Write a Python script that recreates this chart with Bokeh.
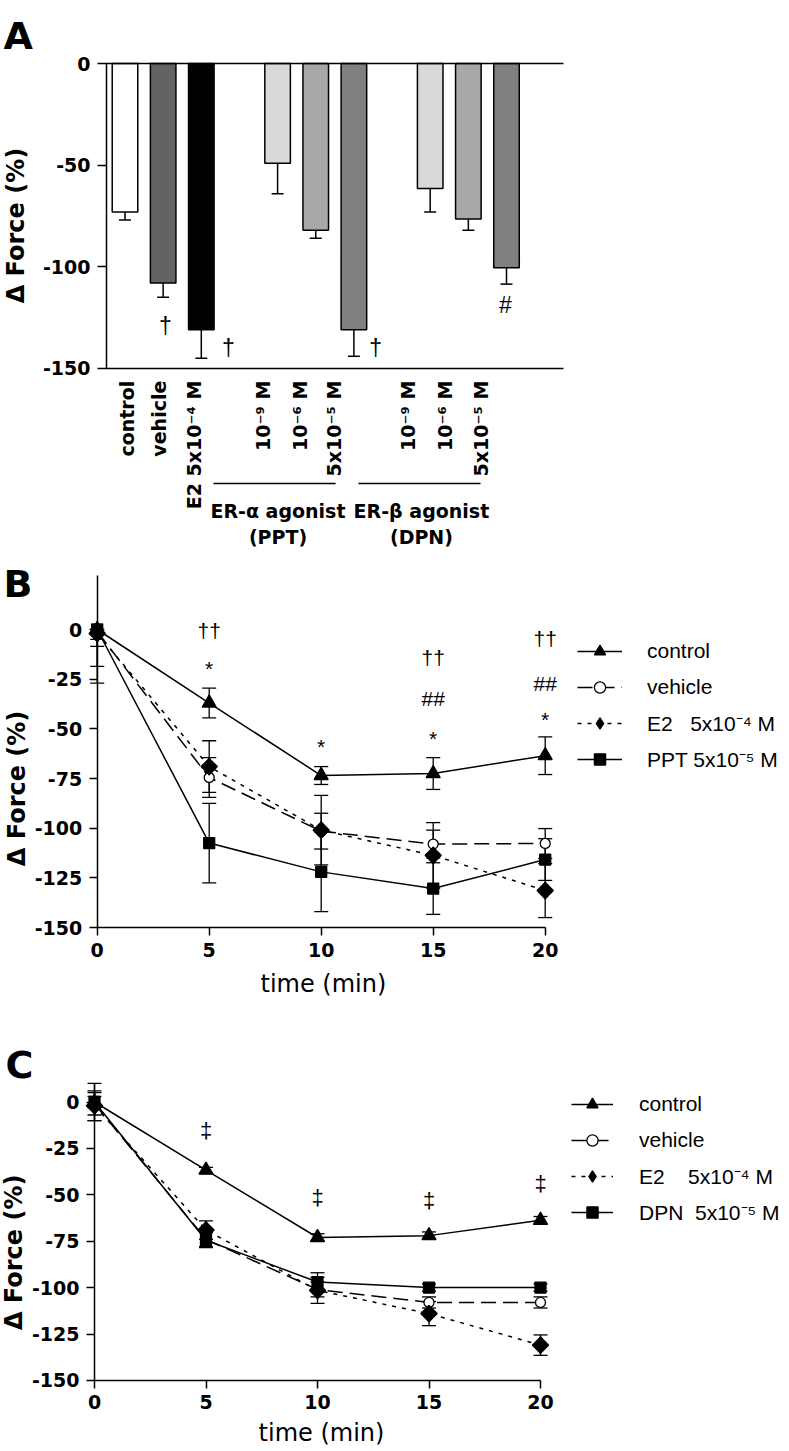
import math
from bokeh.plotting import figure
from bokeh.models import (ColumnDataSource, Range1d, FixedTicker, Whisker, TeeHead,
                          Label, Legend, LegendItem, LinearAxis, NumeralTickFormatter)
from bokeh.layouts import column
from bokeh.embed import file_html
from bokeh.resources import INLINE
from bokeh.core.properties import value

BOLD = "DejaVu Sans"
PLAIN = "Liberation Sans"

# ---------------- Panel A data ----------------
a_labels = ["control", "vehicle", "E2 5x10⁻⁴ M",
            "10⁻⁹ M", "10⁻⁶ M", "5x10⁻⁵ M",
            "10⁻⁹ M", "10⁻⁶ M", "5x10⁻⁵ M"]
a_group = [0, 0, 0, 1, 1, 1, 2, 2, 2]
a_values = [-73, -108, -131, -49, -82, -131, -61.5, -76.5, -100.5]
a_errors = [4, 7, 14, 15, 4, 13, 11.5, 5.5, 8]
a_colors = ["#ffffff", "#636363", "#000000", "#d9d9d9", "#a8a8a8", "#808080",
            "#d9d9d9", "#a8a8a8", "#808080"]
a_label_x = [0.04, 0.90, 1.80, 3.63, 4.60, 5.47, 7.43, 8.40, 9.32]
a_group_titles = ["ER-α agonist", "ER-β agonist"]
a_group_subs = ["(PPT)", "(DPN)"]
a_group_x = [4.01, 7.77]
a_group_line = [(2.32, 5.52), (6.12, 9.32)]
a_marks = [(1.06, -128.9, "†"), (2.71, -140.0, "†"), (6.57, -140.0, "†"), (9.97, -118.8, "#")]
a_ticks = [0, -50, -100, -150]

# ---------------- Panel B data ----------------
times = [0, 5, 10, 15, 20]
b_control = [0, -37, -73.5, -72.5, -63.5]
b_control_err = [5, 7.5, 4.5, 8, 9.5]
b_vehicle = [-1, -74.5, -101.5, -108, -107.7]
b_vehicle_err = [7.5, 10, 9, 7, 7.5]
b_e2 = [-2, -69, -101, -113.7, -131.4]
b_e2_err = [16.6, 13, 17.5, 16.5, 13.6]
b_ppt = [0, -107.5, -122, -130.4, -115.8]
b_ppt_err = [27, 20, 20, 13, 10.5]
b_marks = [(5, -0.5, "††"), (5, -19.4, "*"), (10, -59.1, "*"),
           (15, -14.1, "††"), (15, -34.7, "##"), (15, -55.1, "*"),
           (20, -4.5, "††"), (20, -27.2, "##"), (20, -45.5, "*")]

# ---------------- Panel C data ----------------
c_control = [0, -36.7, -73, -72, -63.7]
c_control_err = [3, 1.5, 2, 2, 2]
c_vehicle = [-1, -74, -101, -108, -108]
c_vehicle_err = [6, 4, 4, 3, 3]
c_e2 = [-2, -69, -101.5, -114, -131]
c_e2_err = [8, 5, 7, 6.5, 5.5]
c_dpn = [0, -74.5, -97, -100, -100]
c_dpn_err = [10, 4, 5, 2, 2]
c_marks = [(5, -15.4, "‡"), (10, -51.5, "‡"), (15, -53.0, "‡"), (20, -44.0, "‡")]

line_ticks = [0, -25, -50, -75, -100, -125, -150]
time_ticks = [0, 5, 10, 15, 20]

NB = "\u00a0"
b_names = ["control", "vehicle", "E2" + NB * 3 + "5x10⁻⁴ M", "PPT 5x10⁻⁵ M"]
c_names = ["control", "vehicle", "E2" + NB * 4 + "5x10⁻⁴ M", "DPN" + NB * 2 + "5x10⁻⁵ M"]

W = 785


def ranges(x_px0, ppu_x, y_px0, ppu_y, h):
    """x_px0: pixel where x=0; y_px0: pixel (from top) where y=0."""
    x0 = -x_px0 / ppu_x
    y1 = y_px0 / ppu_y
    return Range1d(x0, x0 + W / ppu_x), Range1d(y1 - h / ppu_y, y1)


def make_fig(h, xr, yr):
    p = figure(frame_width=W, frame_height=h, x_range=xr, y_range=yr,
               min_border_left=0, min_border_right=0, min_border_top=0, min_border_bottom=0,
               output_backend="svg", toolbar_location=None)
    p.grid.visible = False
    p.outline_line_color = None
    p.background_fill_color = "white"
    p.border_fill_color = "white"
    return p


def style_axis(ax, tick_out, standoff):
    ax.axis_line_width = 1.5
    ax.axis_line_color = "black"
    ax.major_tick_line_width = 1.5
    ax.major_tick_line_color = "black"
    ax.major_tick_out = tick_out
    ax.major_tick_in = 0
    ax.minor_tick_line_color = None
    ax.major_label_text_font = BOLD
    ax.major_label_text_font_style = "bold"
    ax.major_label_text_font_size = "19px"
    ax.major_label_text_color = "black"
    ax.major_label_standoff = standoff
    ax.formatter = NumeralTickFormatter(format="0")


def title_label(p, x, y, text):
    p.add_layout(Label(x=x, y=y, text=text, text_font=BOLD, text_font_style="bold",
                       text_font_size="38px", text_align="left", text_baseline="alphabetic",
                       text_color="black"))


def ylabel(p, x, y):
    p.add_layout(Label(x=x, y=y, text="Δ Force (%)", angle=math.pi / 2, text_font=BOLD,
                       text_font_style="bold", text_font_size="24px", text_align="center",
                       text_baseline="middle", text_color="black"))


# ======================= Panel A =======================
a_pos = [i + g for i, g in enumerate(a_group)]
a_left, a_right = -0.485, 11.494
xrA, yrA = ranges(124.5, 38.15, 63, 2.0333, 548)
pA = make_fig(548, xrA, yrA)
style_axis(pA.yaxis[0], 9, 7)
pA.yaxis.ticker = FixedTicker(ticks=a_ticks)
pA.yaxis.bounds = (-150, 0)
pA.yaxis.fixed_location = a_left
style_axis(pA.xaxis[0], 0, 0)
pA.xaxis.ticker = FixedTicker(ticks=[])
pA.xaxis.bounds = (a_left, a_right)
pA.xaxis.fixed_location = -150
top_axis = LinearAxis(ticker=FixedTicker(ticks=[]), bounds=(a_left, a_right), fixed_location=0)
style_axis(top_axis, 0, 0)
pA.add_layout(top_axis, "above")

srcA = ColumnDataSource(dict(x=a_pos, v=a_values, lo=[v - e for v, e in zip(a_values, a_errors)],
                             c=a_colors))
pA.add_layout(Whisker(source=srcA, base="x", lower="lo", upper="v", line_width=1.5, line_color="black",
                      upper_head=None,
                      lower_head=TeeHead(size=12, line_width=1.5, line_color="black")))
pA.vbar(x="x", width=0.67, top=0, bottom="v", source=srcA, fill_color="c",
        line_color="black", line_width=1.5)

pA.text(x=a_label_x, y=[-156] * len(a_labels), text=a_labels, angle=math.pi / 2,
        text_align="right", text_baseline="alphabetic", text_font=value(BOLD),
        text_font_style="bold", text_font_size="19px", text_color="black")
pA.segment(x0=[g[0] for g in a_group_line], x1=[g[1] for g in a_group_line],
           y0=[-206.6] * 2, y1=[-206.6] * 2, line_color="black", line_width=1.5)
pA.text(x=a_group_x, y=[-219.9] * 2, text=a_group_titles, text_align="center",
        text_baseline="alphabetic", text_font=value(BOLD), text_font_style="bold",
        text_font_size="19px", text_color="black")
pA.text(x=a_group_x, y=[-233.1] * 2, text=a_group_subs, text_align="center",
        text_baseline="alphabetic", text_font=value(BOLD), text_font_style="bold",
        text_font_size="19px", text_color="black")
pA.text(x=[m[0] for m in a_marks], y=[m[1] for m in a_marks], text=[m[2] for m in a_marks],
        text_align="center", text_baseline="middle", text_font=value(PLAIN),
        text_font_size="23px", text_color="black")
title_label(pA, -3.185, 13.28, "A")
ylabel(pA, -2.87, -79.7)


# ======================= Panels B and C =======================
def add_series(p, y, err_lo, err_hi, dash, marker, size, fill, angle=0.0):
    src = ColumnDataSource(dict(x=times, y=y,
                                lo=[a - b for a, b in zip(y, err_lo)],
                                hi=[a + b for a, b in zip(y, err_hi)]))
    p.add_layout(Whisker(source=src, base="x", lower="lo", upper="hi", line_width=1.3,
                         line_color="black",
                         lower_head=TeeHead(size=14, line_width=1.3, line_color="black"),
                         upper_head=TeeHead(size=14, line_width=1.3, line_color="black")))
    ln = p.line("x", "y", source=src, line_width=1.5, line_color="black", line_dash=dash)
    rends = [ln]
    if angle:
        # diamond drawn under the rotated square: it is the one the legend shows
        rends.append(p.scatter("x", "y", source=src, marker="diamond", size=size * 1.45,
                               fill_color=fill, line_color="black", line_width=1.3))
    sc = p.scatter("x", "y", source=src, marker=marker, size=size, fill_color=fill,
                   line_color="black", line_width=1.3, angle=angle)
    if not angle:
        rends.append(sc)
    return rends


def time_panel(h, rngs, y_top, series, names, marks, mark_font, legend_loc,
               glyph_w, standoff, title, title_xy, ylab_xy, xlab_xy):
    p = make_fig(h, *rngs)
    style_axis(p.xaxis[0], 8, 7)
    style_axis(p.yaxis[0], 8, 7)
    p.yaxis.fixed_location = 0
    p.yaxis.bounds = (-150, y_top)
    p.xaxis.fixed_location = -150
    p.xaxis.bounds = (0, 20)
    p.xaxis.ticker = FixedTicker(ticks=time_ticks)
    p.yaxis.ticker = FixedTicker(ticks=line_ticks)
    items = []
    for (args, name) in zip(series, names):
        rends = add_series(p, *args)
        items.append(LegendItem(label=name, renderers=rends))
    p.text(x=[m[0] for m in marks], y=[m[1] for m in marks], text=[m[2] for m in marks],
           text_align="center", text_baseline="middle", text_font=value(PLAIN),
           text_font_size=mark_font, text_color="black")
    p.text(x=[xlab_xy[0]], y=[xlab_xy[1]], text=["time (min)"], text_align="center",
           text_baseline="middle", text_font=value(BOLD), text_font_size="24px",
           text_color="black")
    leg = Legend(items=items, location=legend_loc, glyph_width=glyph_w, glyph_height=28,
                 label_height=33, spacing=3, padding=0, margin=0, label_standoff=standoff,
                 border_line_color=None, background_fill_alpha=0,
                 label_text_font=PLAIN, label_text_font_size="21px", label_text_color="black")
    p.add_layout(leg)
    title_label(p, title_xy[0], title_xy[1], title)
    ylabel(p, ylab_xy[0], ylab_xy[1])
    return p


b_series = [
    (b_control, b_control_err, [0] + b_control_err[1:], "solid", "triangle", 14, "black"),
    (b_vehicle, b_vehicle_err, [0] + b_vehicle_err[1:], "15 7", "circle", 10, "white"),
    (b_e2, b_e2_err, [0] + b_e2_err[1:], "4 6", "square", 11.5, "black", math.pi / 4),
    (b_ppt, b_ppt_err, [0] + b_ppt_err[1:], "solid", "square", 11, "black"),
]
pB = time_panel(460, ranges(96.7, 22.4, 81, 1.9867, 460), 27.2, b_series, b_names, b_marks,
                "21px", (577, 233), 45, 25, "B", (-4.18, 23.15), (-3.6, -80), (10.1, -178.2))

c_series = [
    (c_control, c_control_err, c_control_err, "solid", "triangle", 14, "black"),
    (c_vehicle, c_vehicle_err, c_vehicle_err, "15 7", "circle", 10, "white"),
    (c_e2, c_e2_err, c_e2_err, "4 6", "square", 11.5, "black", math.pi / 4),
    (c_dpn, c_dpn_err, c_dpn_err, "solid", "square", 11, "black"),
]
pC = time_panel(440, ranges(94, 22.3, 93.5, 1.856, 440), 10, c_series, c_names, c_marks, "22px",
                (571, 220), 42, 26, "C", (-3.99, 19.7), (-3.59, -81), (10.18, -178.6))

layout = column(pA, pB, pC, spacing=0)
open("out.html", "w").write(file_html(layout, INLINE))
